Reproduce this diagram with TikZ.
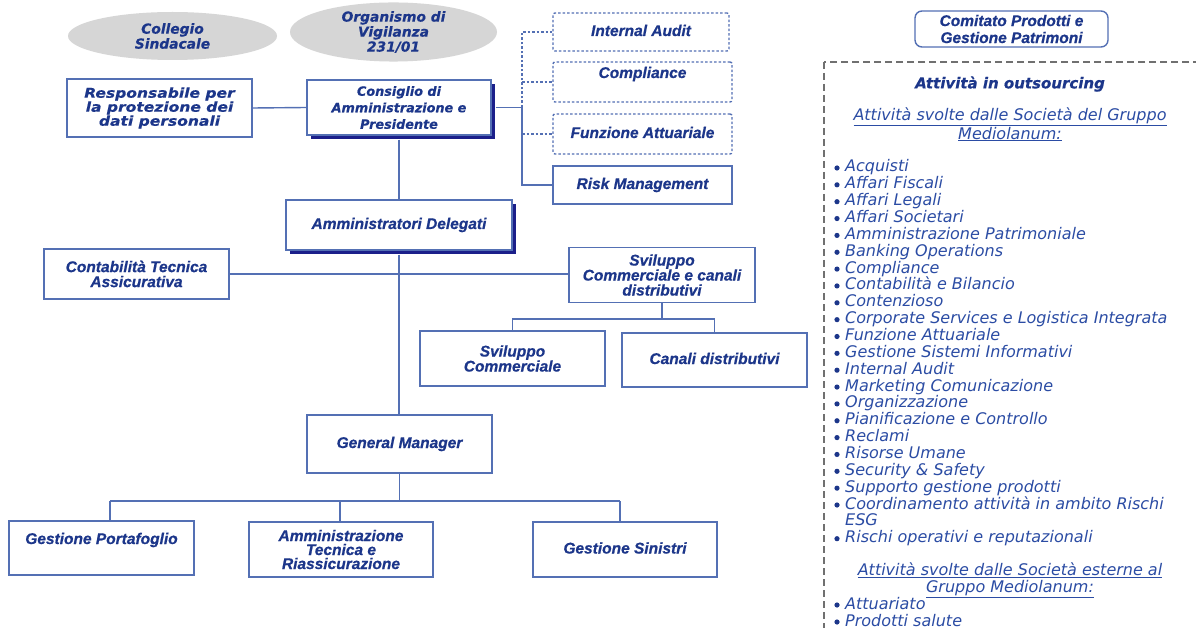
\documentclass[tikz,border=0pt]{standalone}
\usepackage{fontspec}
\setmainfont{DejaVu Sans}
\newfontfamily\vfont[BoldItalicFeatures={FakeBold=0.4}]{DejaVu Sans}
\newfontfamily\vwfont[FakeStretch=1.15,BoldItalicFeatures={FakeBold=0.4}]{DejaVu Sans}
\newfontfamily\afont[BoldItalicFeatures={FakeBold=0.6}]{Liberation Sans}
\usetikzlibrary{shapes.geometric,shadows}
\definecolor{boxblue}{HTML}{5470B4}
\definecolor{txtblue}{HTML}{1C368A}
\definecolor{listblue}{HTML}{2B4CA4}
\definecolor{shadowblue}{HTML}{1B1F8A}
\definecolor{elgray}{HTML}{D6D6D6}
\definecolor{panelgray}{HTML}{707070}
\begin{document}
\begin{tikzpicture}[x=1pt,y=-1pt,
 box/.style={draw=boxblue, line width=1.4pt, fill=white, text=txtblue, align=center, inner sep=0pt},
 abox/.style={box, font=\afont\bfseries\itshape\fontsize{15.5}{15}\selectfont},
 dbox/.style={abox, dash pattern=on 2.5pt off 2pt, rounded corners=2pt},
 shbox/.style={drop shadow={shadow xshift=4pt, shadow yshift=-4pt, fill=shadowblue, opacity=1}},
 conn/.style={draw=boxblue, line width=1.4pt},
 dconn/.style={conn, dash pattern=on 2.5pt off 2pt},
 oval/.style={ellipse, fill=elgray, text=txtblue, align=center, inner sep=0pt, font=\vfont\bfseries\itshape\fontsize{13.8}{15}\selectfont},
 item/.style={anchor=west, text=listblue, inner sep=0pt, text height=11.5pt, text depth=3.5pt, font=\vfont\itshape\fontsize{16}{17}\selectfont},
 head/.style={text=listblue, inner sep=0pt, align=center, font=\vfont\itshape\fontsize{16}{17}\selectfont},
 bul/.style={fill=txtblue}
]
\useasboundingbox (0,0) rectangle (1196,628);
\clip (0,0) rectangle (1196,628);
\fill[white] (0,0) rectangle (1196,628);

% ellipses
\node[oval, minimum width=209pt, minimum height=48pt] (cs) at (172.5,36) {Collegio\\Sindacale};
\node[oval, minimum width=207pt, minimum height=55pt] (odv) at (393.5,32) {Organismo di\\Vigilanza\\231/01};

% top boxes
\node[box, font=\vwfont\bfseries\itshape\fontsize{13.5}{14}\selectfont, minimum width=185pt, minimum height=58pt] (resp) at (159.5,108) {Responsabile per\\la protezione dei\\dati personali};
\node[box, shbox, font=\vfont\bfseries\itshape\fontsize{12.8}{16.5}\selectfont, minimum width=184pt, minimum height=55pt] (cda) at (399,107.5) {Consiglio di\\Amministrazione e\\Presidente};

\node[dbox, minimum width=176pt, minimum height=38pt, text height=11pt, text depth=3pt] (ia) at (641,32) {Internal Audit};
\node[dbox, minimum width=179pt, minimum height=40pt, text height=11pt, text depth=19pt] (comp) at (642.5,82) {Compliance};
\node[dbox, minimum width=179pt, minimum height=40pt, text height=11pt, text depth=3pt] (fa) at (642.5,134) {Funzione Attuariale};
\node[abox, minimum width=179pt, minimum height=38pt, text height=11pt, text depth=3pt] (rm) at (642.5,185) {Risk Management};

% middle
\node[abox, shbox, minimum width=226pt, minimum height=50pt, text height=11pt, text depth=3pt] (ad) at (399,225) {Amministratori Delegati};
\node[abox, minimum width=185pt, minimum height=50pt] (cta) at (136.5,274) {Contabilità Tecnica\\Assicurativa};
\node[abox, minimum width=186pt, minimum height=55pt] (scc) at (662,275) {Sviluppo\\Commerciale e canali\\distributivi};
\node[abox, minimum width=185pt, minimum height=55pt] (sc) at (512.5,358.5) {Sviluppo\\Commerciale};
\node[abox, minimum width=185pt, minimum height=54pt, text height=11pt, text depth=3pt] (cd) at (714.5,360) {Canali distributivi};
\node[abox, minimum width=185pt, minimum height=58pt, text height=11pt, text depth=3pt] (gm) at (399.5,444) {General Manager};
\node[abox, minimum width=185pt, minimum height=54pt, text height=11pt, text depth=19pt] (gp) at (101.5,548) {Gestione Portafoglio};
\node[abox, font=\afont\bfseries\itshape\fontsize{15.5}{14}\selectfont, minimum width=184pt, minimum height=55pt] (atr) at (341,549.5) {Amministrazione\\Tecnica e\\Riassicurazione};
\node[abox, minimum width=184pt, minimum height=55pt, text height=11pt, text depth=3pt] (gs) at (625,549.5) {Gestione Sinistri};

% connectors
\draw[conn] (resp.east) -- (cda.west);
\coordinate (j1) at (522,107.5);
\draw[conn] ([xshift=4pt]cda.east) -- (j1) |- (rm.west);
\draw[dconn] (j1) |- (ia.west);
\draw[dconn] (j1 |- comp.west) -- (comp.west);
\draw[dconn] (j1 |- fa.west) -- (fa.west);
\draw[conn] ([yshift=-4pt]cda.south) -- (ad.north);
\draw[conn] ([yshift=-4pt]ad.south) -- (ad.south |- gm.north);
\draw[conn] (cta.east) -- (cta.east -| scc.west);
\coordinate (j2) at (662,319);
\draw[conn] (scc.south) -- (j2);
\draw[conn] (sc.north) |- (j2) -| (cd.north);
\coordinate (j3) at (399.5,501);
\coordinate (b1) at (110,501);
\coordinate (b2) at (340,501);
\coordinate (b3) at (620,501);
\draw[conn] (gm.south) -- (j3);
\draw[conn] (b1) -- (b3);
\draw[conn] (b1) -- (b1 |- gp.north);
\draw[conn] (b2) -- (b2 |- atr.north);
\draw[conn] (b3) -- (b3 |- gs.north);

% right panel
\node[box, font=\afont\bfseries\itshape\fontsize{15.5}{17}\selectfont, rounded corners=7pt, minimum width=193pt, minimum height=36pt] (cpgp) at (1011.5,29) {Comitato Prodotti e\\Gestione Patrimoni};
\draw[panelgray, line width=1.6pt, dash pattern=on 7pt off 4pt] (824,62) rectangle (1230,680);
\node[inner sep=0pt, text=txtblue, font=\vfont\bfseries\itshape\fontsize{15}{17}\selectfont] (title) at (1010,84) {Attività in outsourcing};
\node[head] (h1) at (1010,124.5) {\underline{Attività svolte dalle Società del Gruppo}\\\underline{Mediolanum:}};
\foreach \t [count=\k from 0] in {Acquisti, Affari Fiscali, Affari Legali, Affari Societari, Amministrazione Patrimoniale, Banking Operations, Compliance, Contabilità e Bilancio, Contenzioso, Corporate Services e Logistica Integrata, Funzione Attuariale, Gestione Sistemi Informativi, Internal Audit, Marketing Comunicazione, Organizzazione, Pianificazione e Controllo, Reclami, Risorse Umane, Security \& Safety, Supporto gestione prodotti, Coordinamento attività in ambito Rischi}{
  \node[item] (li\k) at (845,{168+16.85*\k}) {\t};
  \fill[bul] (837,{168+16.85*\k}) circle (2.6pt);
}
\node[item] (esg) at (845,521.9) {ESG};
\node[item] (rop) at (845,538.7) {Rischi operativi e reputazionali};
\fill[bul] (837,538.7) circle (2.6pt);
\node[head] (h2) at (1010,580.5) {\underline{Attività svolte dalle Società esterne al}\\\underline{Gruppo Mediolanum:}};
\node[item] (att) at (845,605) {Attuariato};
\fill[bul] (837,605) circle (2.6pt);
\node[item] (ps) at (845,622) {Prodotti salute};
\fill[bul] (837,622) circle (2.6pt);
\end{tikzpicture}
\end{document}
